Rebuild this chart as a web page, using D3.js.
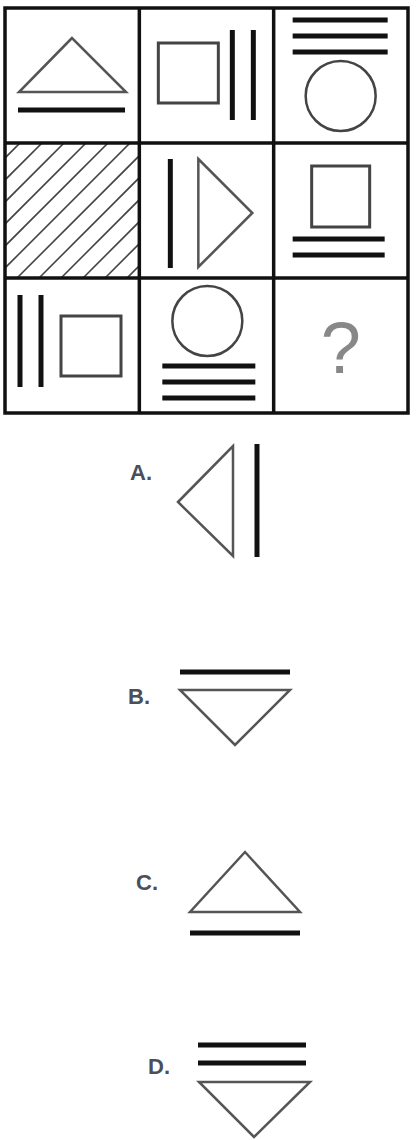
<!DOCTYPE html>
<html lang="en">
<head>
<meta charset="UTF-8">
<title>Figure puzzle</title>
<style>
  body { margin: 0; background: #fff; }
</style>
</head>
<body>
<svg id="chart" width="420" height="1140"></svg>
<script src="https://cdn.jsdelivr.net/npm/d3@7"></script>
<script>
// grid cells, row-major, shapes in cell-local coordinates (cell is ~135 px)
var rows = [0, 1, 2];
var cols = [0, 1, 2];
var cellShapes = [
  [{t: "tri", p: [[67,30],[14,84],[121,84]]}, {t: "bar", x1: 13, y1: 102, x2: 120, y2: 102}],
  [{t: "rect", x: 19, y: 35, w: 60, h: 60}, {t: "bar", x1: 93, y1: 22, x2: 93, y2: 112}, {t: "bar", x1: 114, y1: 22, x2: 114, y2: 112}],
  [{t: "bar", x1: 19, y1: 12, x2: 114, y2: 12}, {t: "bar", x1: 19, y1: 28, x2: 114, y2: 28}, {t: "bar", x1: 19, y1: 44, x2: 114, y2: 44}, {t: "circle", cx: 67, cy: 88, r: 35}],
  [{t: "hatch"}],
  [{t: "bar", x1: 31, y1: 16, x2: 31, y2: 125}, {t: "tri", p: [[59,16],[113,70],[59,124]]}],
  [{t: "rect", x: 38, y: 23, w: 58, h: 61}, {t: "bar", x1: 19, y1: 96, x2: 111, y2: 96}, {t: "bar", x1: 19, y1: 112, x2: 111, y2: 112}],
  [{t: "bar", x1: 15, y1: 17, x2: 15, y2: 109}, {t: "bar", x1: 36, y1: 17, x2: 36, y2: 109}, {t: "rect", x: 56, y: 38, w: 60, h: 60}],
  [{t: "circle", cx: 68, cy: 43, r: 35}, {t: "bar", x1: 23, y1: 88, x2: 116, y2: 88}, {t: "bar", x1: 23, y1: 104, x2: 116, y2: 104}, {t: "bar", x1: 23, y1: 120, x2: 116, y2: 120}],
  [{t: "q"}]
];
var optionLabels = ["A.", "B.", "C.", "D."];
var optionLabelPos = [[130, 480], [128, 704], [136, 890], [148, 1074]];
var optionShapes = [
  [{t: "tri", p: [[178,502],[233,446],[233,556]]}, {t: "bar", x1: 257, y1: 444, x2: 257, y2: 557}],
  [{t: "bar", x1: 180, y1: 672, x2: 290, y2: 672}, {t: "tri", p: [[180,690],[290,690],[235,745]]}],
  [{t: "tri", p: [[245,852],[190,912],[300,912]]}, {t: "bar", x1: 190, y1: 933, x2: 300, y2: 933}],
  [{t: "bar", x1: 198, y1: 1045, x2: 306, y2: 1045}, {t: "bar", x1: 198, y1: 1063, x2: 306, y2: 1063}, {t: "tri", p: [[199,1082],[310,1082],[254,1137]]}]
];

var svg = d3.select("#chart");
var x = d3.scaleBand().domain(cols).range([5, 408]);
var y = d3.scaleBand().domain(rows).range([8, 413]);

svg.append("defs").append("clipPath").attr("id", "hclip")
  .append("rect").attr("width", x.bandwidth()).attr("height", y.bandwidth());

function draw(g, s) {
  if (s.t === "bar") {
    g.append("line").attr("x1", s.x1).attr("y1", s.y1).attr("x2", s.x2).attr("y2", s.y2)
      .attr("stroke", "#111").attr("stroke-width", 5);
  } else if (s.t === "tri") {
    g.append("path").attr("d", d3.line()(s.p) + "Z")
      .attr("fill", "none").attr("stroke", "#555").attr("stroke-width", 2.5);
  } else if (s.t === "rect") {
    g.append("rect").attr("x", s.x).attr("y", s.y).attr("width", s.w).attr("height", s.h)
      .attr("fill", "none").attr("stroke", "#444").attr("stroke-width", 3);
  } else if (s.t === "circle") {
    g.append("circle").attr("cx", s.cx).attr("cy", s.cy).attr("r", s.r)
      .attr("fill", "none").attr("stroke", "#444").attr("stroke-width", 2.5);
  } else if (s.t === "hatch") {
    var hg = g.append("g").attr("clip-path", "url(#hclip)");
    d3.range(-120, 140, 22).forEach(function (o) {
      hg.append("line").attr("x1", o).attr("y1", y.bandwidth()).attr("x2", o + 140).attr("y2", y.bandwidth() - 140)
        .attr("stroke", "#444").attr("stroke-width", 1.6);
    });
  } else if (s.t === "q") {
    g.append("text").attr("x", x.bandwidth() / 2).attr("y", 95).attr("text-anchor", "middle")
      .attr("font-family", "Arial, sans-serif").attr("font-size", 72).attr("fill", "#888").text("?");
  }
}

cellShapes.forEach(function (shapes, i) {
  var g = svg.append("g").attr("transform", "translate(" + x(i % 3) + "," + y(Math.floor(i / 3)) + ")");
  shapes.forEach(function (s) { draw(g, s); });
});

// grid lines
svg.append("rect").attr("x", 5).attr("y", 8).attr("width", 403).attr("height", 405)
  .attr("fill", "none").attr("stroke", "#111").attr("stroke-width", 3.5);
[1, 2].forEach(function (k) {
  svg.append("line").attr("x1", x(k)).attr("x2", x(k)).attr("y1", 8).attr("y2", 413).attr("stroke", "#111").attr("stroke-width", 3.5);
  svg.append("line").attr("y1", y(k)).attr("y2", y(k)).attr("x1", 5).attr("x2", 408).attr("stroke", "#111").attr("stroke-width", 3.5);
});

optionShapes.forEach(function (shapes, i) {
  var g = svg.append("g");
  g.append("text").attr("x", optionLabelPos[i][0]).attr("y", optionLabelPos[i][1])
    .attr("font-family", "Arial, sans-serif").attr("font-weight", "bold").attr("font-size", 22)
    .attr("fill", "#4a4f5a").text(optionLabels[i]);
  shapes.forEach(function (s) { draw(g, s); });
});
</script>
</body>
</html>
